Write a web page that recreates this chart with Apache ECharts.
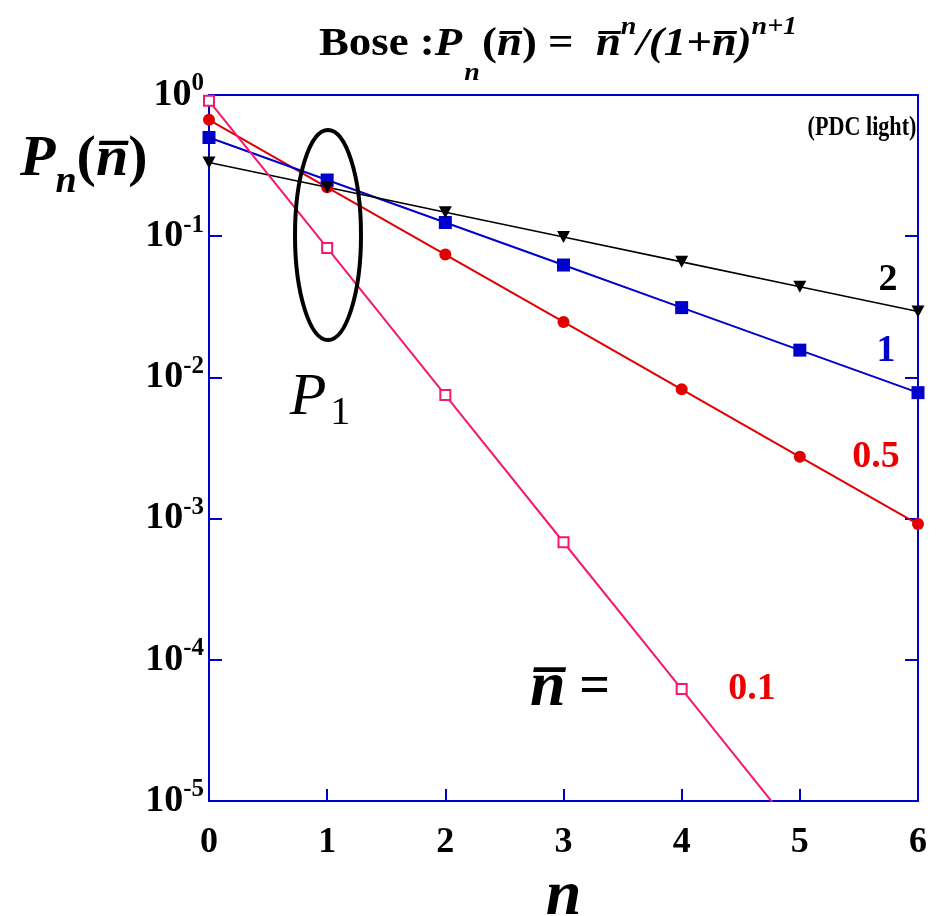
<!DOCTYPE html>
<html>
<head>
<meta charset="utf-8">
<script src="https://cdn.jsdelivr.net/npm/echarts@6/dist/echarts.min.js"></script>
<style>
  html, body { margin: 0; padding: 0; background: #fff; }
  #chart { width: 943px; height: 916px; }
</style>
</head>
<body>
<div id="chart"></div>
<script>
// photon number n and Bose probabilities P_n for each mean photon number
const nValues = [0, 1, 2, 3, 4, 5, 6];
const nbar2 = [0.333, 0.222, 0.148, 0.0988, 0.0658, 0.0439, 0.0293];
const nbar1 = [0.5, 0.25, 0.125, 0.0625, 0.0312, 0.0156, 0.0078];
const nbar05 = [0.667, 0.222, 0.0741, 0.0247, 0.00823, 0.00274, 0.000914];
const nbar01 = [0.909, 0.0826, 0.0075, 0.00068, 0.000062, 0.0000056];
const yExponents = ["0", "-1", "-2", "-3", "-4", "-5"];

const SERIF = '"Liberation Serif", "Times New Roman", serif';
const AXIS_BLUE = "#0000CC";
const RED = "#E00000";
const PINK = "#F5186F";

const pairs = (arr) => arr.map((v, i) => [nValues[i], v]);

const chart = echarts.init(document.getElementById("chart"), null, { renderer: "canvas" });

const yAxisBase = {
  type: "log",
  logBase: 10,
  min: 1e-5,
  max: 1,
  axisLine: { show: true, lineStyle: { color: AXIS_BLUE, width: 2 } },
  axisTick: { show: true, inside: true, length: 13, lineStyle: { color: AXIS_BLUE, width: 2 } },
  minorTick: { show: false },
  splitLine: { show: false },
};

// plain centred label helper for the graphic layer
const label = (text, x, y, color, size) => ({
  type: "text",
  x: x,
  y: y,
  style: {
    text: text,
    fill: color,
    fontFamily: SERIF,
    fontWeight: "bold",
    fontSize: size,
    align: "center",
    verticalAlign: "middle",
    textAlign: "center",
    textVerticalAlign: "middle",
  },
});

const option = {
  animation: false,
  backgroundColor: "#fff",
  grid: {
    show: true,
    left: 209,
    right: 25,
    top: 95,
    bottom: 115,
    containLabel: false,
    outerBoundsMode: "none",
    borderColor: AXIS_BLUE,
    borderWidth: 2,
    backgroundColor: "transparent",
  },
  xAxis: {
    type: "value",
    min: 0,
    max: 6,
    interval: 1,
    axisLine: { show: true, lineStyle: { color: AXIS_BLUE, width: 2 } },
    axisTick: { show: true, inside: true, length: 12, lineStyle: { color: AXIS_BLUE, width: 2 } },
    splitLine: { show: false },
    axisLabel: {
      margin: 24,
      color: "#000",
      fontFamily: SERIF,
      fontWeight: "bold",
      fontSize: 36,
    },
    name: "n",
    nameLocation: "middle",
    nameGap: 63,
    nameTextStyle: {
      color: "#000",
      fontFamily: SERIF,
      fontWeight: "bold",
      fontStyle: "italic",
      fontSize: 64,
    },
  },
  yAxis: [
    Object.assign({}, yAxisBase, {
      position: "left",
      axisLabel: {
        margin: 5,
        formatter: (value) => {
          const e = Math.round(-Math.log10(value));
          return "{b|10}{s|" + yExponents[e] + "}";
        },
        rich: {
          b: { fontFamily: SERIF, fontWeight: "bold", fontSize: 38, color: "#000", lineHeight: 40 },
          s: { fontFamily: SERIF, fontWeight: "bold", fontSize: 25, color: "#000", lineHeight: 25, padding: [0, 0, 22, 0] },
        },
      },
    }),
    Object.assign({}, yAxisBase, {
      position: "right",
      axisLabel: { show: false },
    }),
  ],
  series: [
    {
      name: "0.5",
      type: "line",
      data: pairs(nbar05),
      symbol: "circle",
      symbolSize: 12,
      lineStyle: { color: RED, width: 2 },
      itemStyle: { color: RED },
    },
    {
      name: "1",
      type: "line",
      data: pairs(nbar1),
      symbol: "rect",
      symbolSize: 13,
      lineStyle: { color: AXIS_BLUE, width: 2 },
      itemStyle: { color: AXIS_BLUE },
    },
    {
      name: "2",
      type: "line",
      data: pairs(nbar2),
      symbol: "triangle",
      symbolRotate: 180,
      symbolSize: [13, 12],
      lineStyle: { color: "#000", width: 1.6 },
      itemStyle: { color: "#000" },
    },
    {
      name: "0.1",
      type: "line",
      data: pairs(nbar01),
      symbol: "rect",
      symbolSize: 10,
      clip: true,
      lineStyle: { color: PINK, width: 2 },
      itemStyle: { color: "#fff", borderColor: PINK, borderWidth: 2 },
    },
  ],
  graphic: [
    {
      type: "text",
      x: 558,
      y: 45,
      scaleX: 1.12,
      style: {
        text: "{r|Bose :}{i|P}{sub|n}{r|(}{i|n\u0305}{r|) =  }{i|n\u0305}{sup|n}{i|/(1+}{i|n\u0305}{i|)}{sup|n+1}",
        align: "center",
        verticalAlign: "middle",
        textAlign: "center",
        textVerticalAlign: "middle",
        rich: {
          r: { fontFamily: SERIF, fontWeight: "bold", fontSize: 40, fill: "#000", color: "#000", lineHeight: 44 },
          i: { fontFamily: SERIF, fontWeight: "bold", fontStyle: "italic", fontSize: 40, fill: "#000", color: "#000", lineHeight: 44 },
          sub: { fontFamily: SERIF, fontWeight: "bold", fontStyle: "italic", fontSize: 25, fill: "#000", color: "#000", lineHeight: 25, padding: [58, 2, 0, 2] },
          sup: { fontFamily: SERIF, fontWeight: "bold", fontStyle: "italic", fontSize: 25, fill: "#000", color: "#000", lineHeight: 25, padding: [0, 0, 34, 0] },
        },
      },
    },
    {
      type: "text",
      x: 20,
      y: 160,
      style: {
        text: "{p|P}{sub|n}{r|(}{p|n\u0305}{r|)}",
        align: "left",
        verticalAlign: "middle",
        textAlign: "left",
        textVerticalAlign: "middle",
        rich: {
          p: { fontFamily: SERIF, fontWeight: "bold", fontStyle: "italic", fontSize: 58, fill: "#000", color: "#000", lineHeight: 60 },
          r: { fontFamily: SERIF, fontWeight: "bold", fontSize: 58, fill: "#000", color: "#000", lineHeight: 60 },
          sub: { fontFamily: SERIF, fontWeight: "bold", fontStyle: "italic", fontSize: 38, fill: "#000", color: "#000", lineHeight: 38, padding: [44, 0, 0, 0] },
        },
      },
    },
    Object.assign(label("(PDC light)", 862, 128, "#000", 27), { scaleX: 0.82 }),
    label("2", 888, 280, "#000", 38),
    label("1", 886, 351, AXIS_BLUE, 38),
    label("0.5", 876, 457, "#EE0000", 38),
    label("0.1", 752, 689, "#EE0000", 38),
    {
      type: "text",
      x: 570,
      y: 688,
      style: {
        text: "{n|n\u0305}{r| =}",
        align: "center",
        verticalAlign: "middle",
        textAlign: "center",
        textVerticalAlign: "middle",
        rich: {
          n: { fontFamily: SERIF, fontWeight: "bold", fontStyle: "italic", fontSize: 64, fill: "#000", color: "#000", lineHeight: 64 },
          r: { fontFamily: SERIF, fontWeight: "bold", fontSize: 54, fill: "#000", color: "#000", lineHeight: 64 },
        },
      },
    },
    {
      type: "text",
      x: 320,
      y: 398,
      style: {
        text: "{p|P}{s|1}",
        align: "center",
        verticalAlign: "middle",
        textAlign: "center",
        textVerticalAlign: "middle",
        rich: {
          p: { fontFamily: SERIF, fontStyle: "italic", fontSize: 60, fill: "#000", color: "#000", lineHeight: 60 },
          s: { fontFamily: SERIF, fontSize: 40, fill: "#000", color: "#000", lineHeight: 40, padding: [30, 0, 0, 4] },
        },
      },
    },
    {
      type: "ellipse",
      shape: { cx: 328, cy: 235, rx: 33, ry: 105 },
      style: { fill: null, stroke: "#000", lineWidth: 4 },
      z: 10,
    },
  ],
};

chart.setOption(option);
</script>
</body>
</html>
